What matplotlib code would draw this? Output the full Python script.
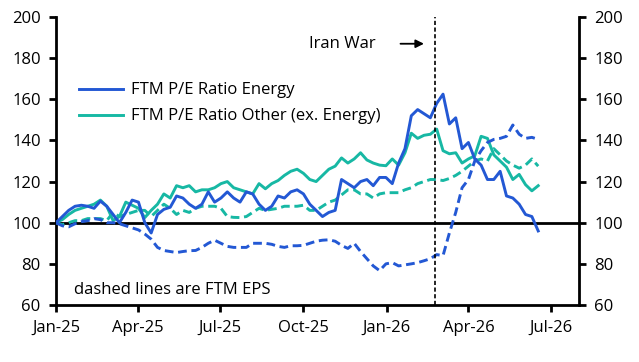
import numpy as np
import pandas as pd
import matplotlib
matplotlib.use("Agg")
import matplotlib.pyplot as plt
import matplotlib.dates as mdates

plt.rcParams['font.family'] = ['Open Sans', 'DejaVu Sans']

# weekly index values (start = 100)
dates = pd.date_range("2025-01-01", periods=77, freq="7D")

pe_energy = [100, 103, 106, 108, 108.5, 108, 107, 110.5, 108, 104,
             100, 105, 111, 110, 100, 95, 104, 106.5, 107.5, 113,
             112, 109, 107, 109, 115, 110, 112, 115, 112, 110,
             115, 114, 109, 106, 108, 113, 112, 115, 116, 114,
             109, 106, 103, 105, 106, 121, 119, 117, 120, 121,
             118, 122, 122, 119, 129, 136, 152, 155, 153, 151,
             158, 162.5, 148, 151, 136, 139, 131, 128, 121, 121,
             125, 113, 112, 109, 104, 103, 96]

pe_other = [100, 101.5, 104, 106, 107, 108, 109, 111, 108, 101,
            103, 110, 108.5, 107, 102.5, 106, 109, 114, 112, 118,
            117, 118, 115, 116, 116, 117, 119, 120, 117, 116,
            115, 114, 119, 116.5, 119, 120.5, 123, 125, 126, 124,
            121, 120, 123, 126, 127.5, 131.5, 129, 131, 134, 130.5,
            129, 128, 127.7, 131, 128, 134, 143.5, 141, 142.5, 143,
            145.5, 135, 133.5, 134, 129, 131, 132.5, 142, 141, 133,
            130, 127, 121, 123.5, 118.5, 115.5, 118]

eps_energy = [100, 98.5, 98, 99.5, 100.5, 101, 102, 101.5, 100, 100,
              99.5, 98.5, 97.5, 96.5, 94.5, 92, 88, 86.5, 86, 85.5,
              86, 86.4, 86.5, 88, 90, 91.5, 90, 88.5, 88, 88,
              88, 90, 90, 90, 89.5, 88.5, 88, 88.8, 88.8, 89,
              90, 91, 91.5, 91.7, 91, 89, 87.5, 90, 86, 82.5,
              79, 76.7, 80, 80.6, 79, 79.5, 80, 80.6, 81.5, 82.5,
              84.5, 84, 95, 105, 117, 121, 130, 135, 139, 140.5,
              141, 142, 147.5, 143, 141, 141.5, 140.5]

eps_other = [100, 99, 100, 101, 101, 102, 102, 102, 101, 105,
             103, 104, 105, 106, 106, 103, 106, 109, 107, 104,
             106, 105, 107, 108, 108, 108, 107, 103, 102.6, 102.5,
             103, 105, 107, 106, 106.5, 107, 108, 108, 108, 108.5,
             106, 106, 108, 110, 111, 113.5, 116, 116, 114, 114,
             112, 114, 114.6, 114.6, 114.6, 116, 117, 119, 120, 121,
             121, 120.5, 121.5, 123, 125, 127.5, 130, 131, 130, 136,
             133, 130, 128, 126.5, 128, 131, 127.5]

war_date = pd.Timestamp("2026-02-23")

blue = "#2358d4"
teal = "#17b8a4"

fig = plt.figure(figsize=(6.39, 3.62), dpi=100)
ax = fig.add_axes([56/639, 57/362, 523/639, 288/362])

ax.plot(dates, pe_energy, color=blue, lw=2.1, label="FTM P/E Ratio Energy", zorder=4)
ax.plot(dates, pe_other, color=teal, lw=2.1, label="FTM P/E Ratio Other (ex. Energy)", zorder=3)
ax.plot(dates, eps_energy, color=blue, lw=2.1, ls=(0, (3, 1.6)), zorder=4)
ax.plot(dates, eps_other, color=teal, lw=2.1, ls=(0, (3, 1.6)), zorder=3)

ax.axhline(100, color="black", lw=2.0, zorder=2)
ax.axvline(war_date, color="black", lw=1.2, ls=(0, (2.5, 1.5)), zorder=5)

ax.set_ylim(60, 200)
ax.set_yticks(np.arange(60, 201, 20))
ax.set_xlim(pd.Timestamp("2025-01-01"), pd.Timestamp("2026-08-01"))
ax.xaxis.set_major_locator(mdates.MonthLocator(bymonth=[1, 4, 7, 10]))
ax.xaxis.set_major_formatter(mdates.DateFormatter("%b-%y"))

for s in ["left", "right", "bottom"]:
    ax.spines[s].set_linewidth(2.0)
ax.spines["top"].set_visible(False)
ax.tick_params(axis="both", direction="out", length=5, width=2, labelsize=12, pad=6)
ax.tick_params(axis="y", which="both", right=True, labelright=True)

ax.legend(loc="upper left", bbox_to_anchor=(0.016, 0.825), frameon=False,
          fontsize=12, handlelength=2.6, handletextpad=0.5, labelspacing=0.6)

ax.text(0.035, 0.025, "dashed lines are FTM EPS", transform=ax.transAxes,
        fontsize=12, ha="left", va="bottom")

ax.annotate("", xy=(pd.Timestamp("2026-02-14"), 187), xytext=(pd.Timestamp("2026-01-13"), 187),
            arrowprops=dict(arrowstyle="-|>", color="black", lw=1.3, mutation_scale=12))
ax.text(pd.Timestamp("2025-12-20"), 187, "Iran War", fontsize=12, ha="right", va="center")

fig.savefig("out.png", dpi=100)
